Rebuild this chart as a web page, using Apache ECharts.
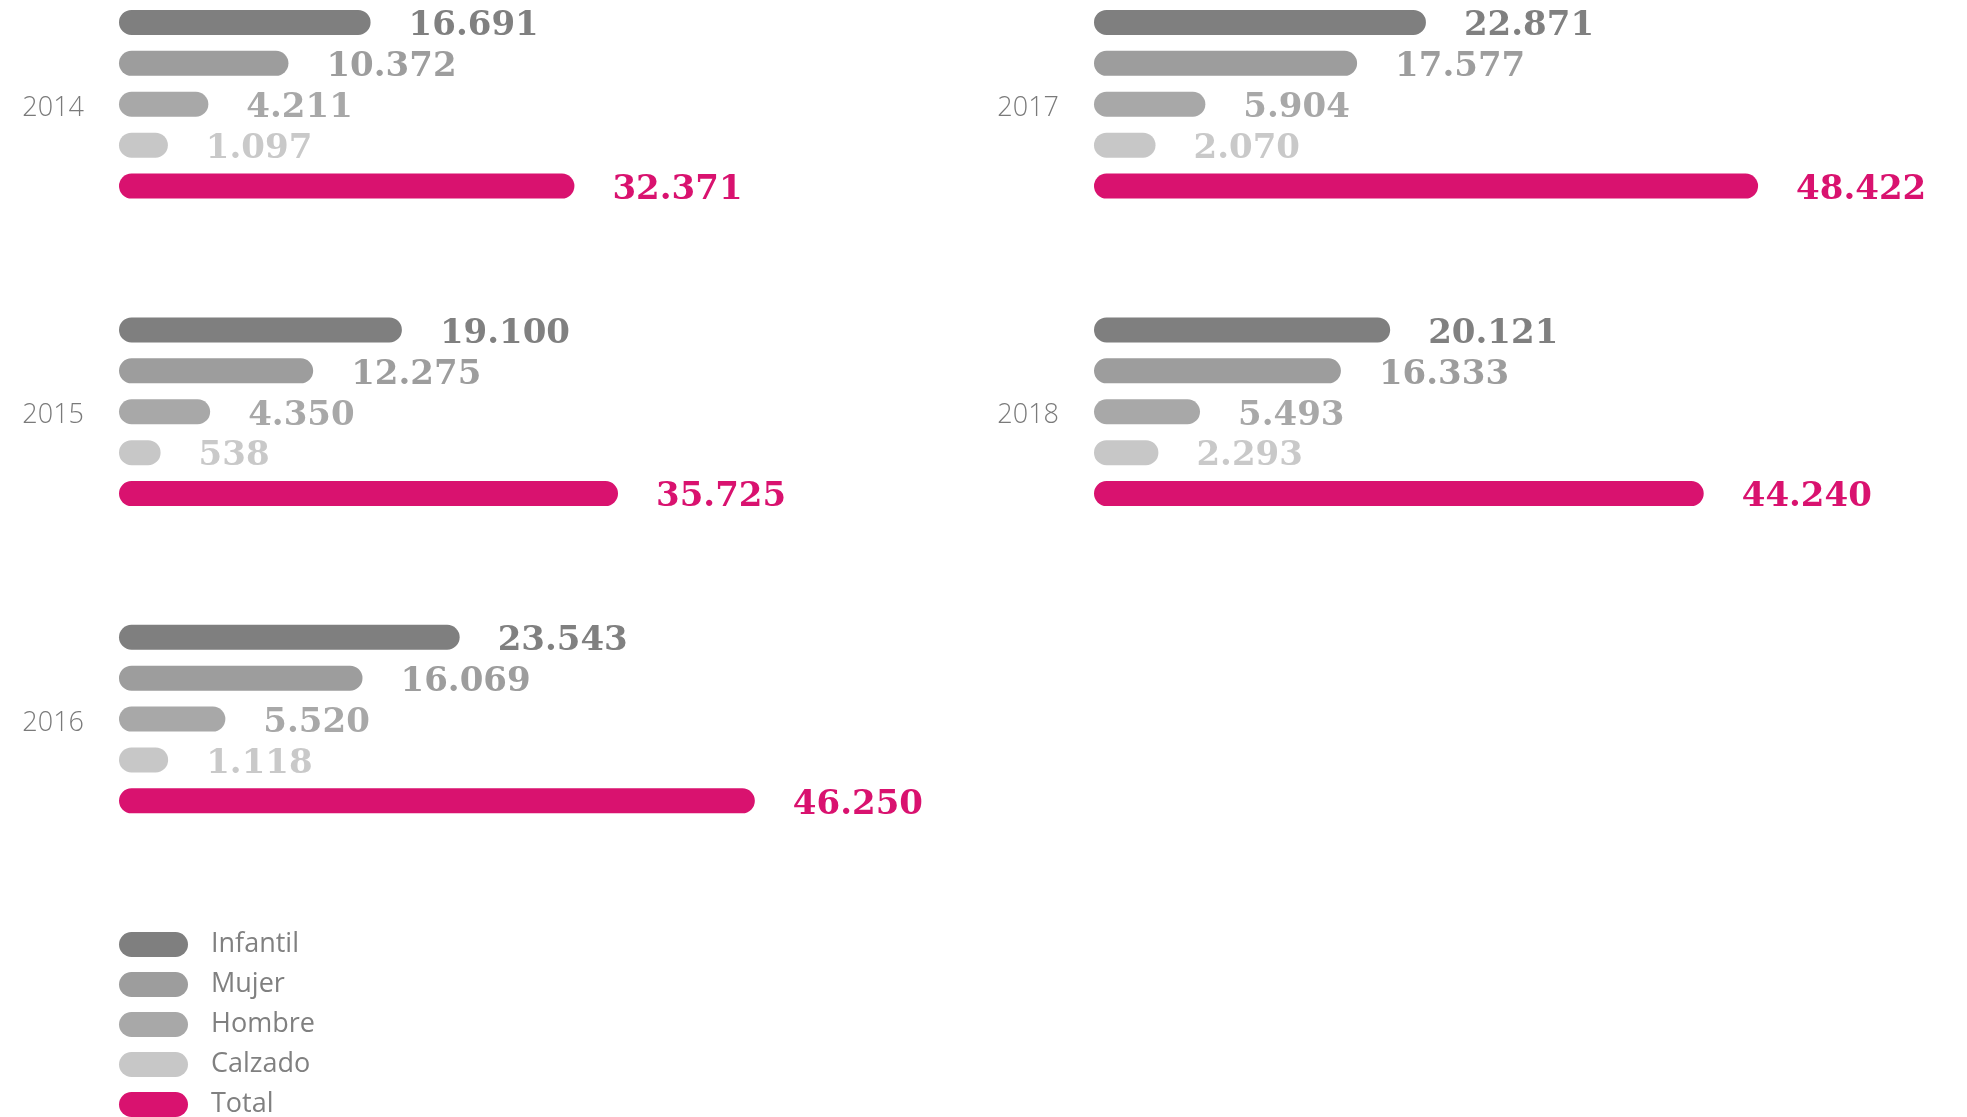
<!DOCTYPE html>
<html>
<head>
<meta charset="utf-8">
<script src="https://cdn.jsdelivr.net/npm/echarts@6/dist/echarts.min.js"></script>
<style>
html,body{margin:0;padding:0;background:#fff;}
#chart{width:1967px;height:1117px;}
</style>
</head>
<body>
<div id="chart"></div>
<script>
// ---- data ----
const categories = ['Infantil', 'Mujer', 'Hombre', 'Calzado', 'Total'];
const years = ['2014', '2015', '2016', '2017', '2018'];
const infantil = [16691, 19100, 23543, 22871, 20121];
const mujer    = [10372, 12275, 16069, 17577, 16333];
const hombre   = [4211, 4350, 5520, 5904, 5493];
const calzado  = [1097, 538, 1118, 2070, 2293];
const total    = [32371, 35725, 46250, 48422, 44240];

const seriesValues = [infantil, mujer, hombre, calzado, total];
const barColors  = ['#7f7f7f', '#9d9d9d', '#a8a8a8', '#c7c7c7', '#d9126f'];
const textColors = ['#808080', '#9d9d9d', '#a8a8a8', '#c9c9c9', '#d9126f'];

// layout (style only)
const layout = [
  {left: 119, top: 2},
  {left: 119, top: 309.5},
  {left: 119, top: 616.8},
  {left: 1094, top: 2},
  {left: 1094, top: 309.5}
];
const GRID_H = 204.5, GRID_W = 650, XMAX = 50000;
const CAP = 34.6;       // extra pill length in px
const LABEL_GAP = 38;

function fmt(v) {
  return String(v).replace(/\B(?=(\d{3})+(?!\d))/g, '.');
}

function makeRender(k) {
  return function (params, api) {
    const v = api.value(0), c = api.value(1);
    const p0 = api.coord([0, c]);
    const p1 = api.coord([v, c]);
    const band = api.size([0, 1])[1];
    const h = band * 0.611;
    const x0 = p0[0];
    const x1 = p1[0] + CAP;
    return {
      type: 'group',
      children: [
        {
          type: 'rect',
          shape: {x: x0, y: p0[1] - h / 2, width: x1 - x0, height: h, r: h / 2},
          style: {fill: barColors[k]}
        },
        {
          type: 'text',
          style: {
            text: fmt(v),
            x: x1 + LABEL_GAP,
            y: p0[1] + 4,
            verticalAlign: 'middle',
            align: 'left',
            fill: textColors[k],
            font: 'bold 34px "DejaVu Serif"'
          }
        }
      ]
    };
  };
}

const grids = [], xAxes = [], yAxes = [], series = [];
years.forEach((yr, g) => {
  grids.push({left: layout[g].left, top: layout[g].top, width: GRID_W, height: GRID_H});
  xAxes.push({gridIndex: g, type: 'value', min: 0, max: XMAX, show: false});
  yAxes.push({
    gridIndex: g, type: 'category', data: categories, inverse: true,
    axisLine: {show: false}, axisTick: {show: false}, splitLine: {show: false},
    axisLabel: {
      margin: 35, color: '#808080', fontFamily: 'Open Sans', fontWeight: 300, fontSize: 27,
      formatter: (val, idx) => idx === 2 ? '{y|' + yr + '}' : '',
      rich: {
        y: {color: '#7a7a7a', fontFamily: 'Open Sans', fontWeight: 300, fontSize: 27, padding: [8, 0, 0, 0]}
      }
    }
  });
  categories.forEach((cat, k) => {
    series.push({
      type: 'custom',
      name: cat,
      xAxisIndex: g, yAxisIndex: g,
      itemStyle: {color: barColors[k]},
      renderItem: makeRender(k),
      encode: {x: 0, y: 1},
      data: [[seriesValues[k][g], k]],
      silent: true
    });
  });
});

const pill = 'path://M12.5,0 H56.5 A12.5,12.5 0 0 1 56.5,25 H12.5 A12.5,12.5 0 0 1 12.5,0 Z';

const option = {
  backgroundColor: '#ffffff',
  animation: false,
  grid: grids,
  xAxis: xAxes,
  yAxis: yAxes,
  legend: {
    type: 'plain',
    data: categories.map(c => ({name: c, icon: pill})),
    orient: 'vertical',
    left: 119,
    top: 931,
    height: 260,
    padding: 0,
    itemWidth: 69,
    itemHeight: 25,
    itemGap: 13,
    selectedMode: false,
    textStyle: {
      color: '#808080', fontFamily: 'Open Sans', fontWeight: 400, fontSize: 27,
      padding: [0, 0, 0, 18]
    }
  },
  series: series
};

const chart = echarts.init(document.getElementById('chart'), null, {renderer: 'canvas'});
chart.setOption(option);
</script>
</body>
</html>
